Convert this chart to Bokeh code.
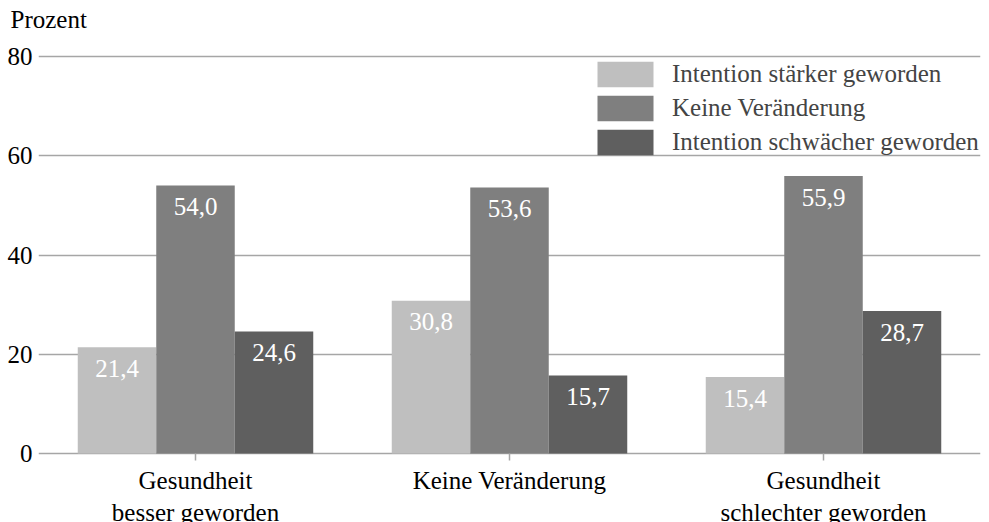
import math
from bokeh.plotting import figure
from bokeh.models import FactorRange, Range1d, FixedTicker, ColumnDataSource
from bokeh.transform import dodge
from bokeh.embed import file_html
from bokeh.resources import INLINE
from bokeh.core.properties import value

categories = ["Gesundheit\nbesser geworden", "Keine Veränderung", "Gesundheit\nschlechter geworden"]
series_names = ["Intention stärker geworden", "Keine Veränderung", "Intention schwächer geworden"]
staerker = [21.4, 30.8, 15.4]
keine = [54.0, 53.6, 55.9]
schwaecher = [24.6, 15.7, 28.7]
y_ticks = [0, 20, 40, 60, 80]
y_label = "Prozent"

colors = ["#bfbfbf", "#7f7f7f", "#5f5f5f"]
offsets = [-0.25, 0.0, 0.25]
FONT = "'Liberation Serif', serif"
GRID = "#a6a6a6"
H = 522

# frame spans from above 80 down past 0 so category labels sit inside it
p = figure(width=981, height=H, x_range=FactorRange(*categories), y_range=Range1d(-13.9, 84.43),
           output_backend="svg", toolbar_location=None,
           min_border_left=38, min_border_right=1, min_border_top=34, min_border_bottom=0)
p.outline_line_color = None

src = ColumnDataSource(dict(cat=categories, s0=staerker, s1=keine, s2=schwaecher,
                            t0=[f"{v:.1f}".replace(".", ",") for v in staerker],
                            t1=[f"{v:.1f}".replace(".", ",") for v in keine],
                            t2=[f"{v:.1f}".replace(".", ",") for v in schwaecher]))

for i, name in enumerate(series_names):
    x = dodge("cat", offsets[i], range=p.x_range)
    p.vbar(x=x, top=f"s{i}", bottom=0, width=0.25, source=src, fill_color=colors[i], line_color=None,
           legend_label=name)
    p.text(x=x, y=f"s{i}", text=f"t{i}", source=src, text_color="white",
           text_font=value(FONT), text_font_size="25px", text_align="center",
           text_baseline="alphabetic", y_offset=21)

# category axis: zero line is the y grid line at 0, ticks and labels at each factor
csrc = ColumnDataSource(dict(cat=categories, zero=[0] * len(categories)))
p.ray(x="cat", y="zero", length=7, length_units="screen", angle=-math.pi / 2,
      source=csrc, line_color=GRID, line_width=1.5)
p.text(x="cat", y="zero", text="cat", source=csrc, text_color="black",
       text_font=value(FONT), text_font_size="25px", text_align="center",
       text_baseline="top", y_offset=13, text_line_height=1.2)
p.xaxis.visible = False

p.title.text = y_label
p.title.text_font = FONT
p.title.text_font_size = "25px"
p.title.text_font_style = "normal"
p.title.text_color = "black"
p.title.align = "left"
p.title.offset = -28
p.title.standoff = 4
p.title.vertical_align = "bottom"

p.xgrid.grid_line_color = None
p.ygrid.ticker = FixedTicker(ticks=y_ticks)
p.ygrid.grid_line_color = GRID
p.ygrid.grid_line_width = 1.5

p.yaxis.ticker = FixedTicker(ticks=y_ticks)
p.yaxis.axis_line_color = None
p.yaxis.major_tick_line_color = None
p.yaxis.major_tick_out = 0
p.yaxis.major_tick_in = 0
p.yaxis.minor_tick_line_color = None
p.yaxis.major_label_text_font = FONT
p.yaxis.major_label_text_font_size = "25px"
p.yaxis.major_label_text_color = "black"
p.yaxis.major_label_standoff = 6

lg = p.legend[0]
# (x, y) of the legend's lower-left corner, in pixels from the frame's lower-left corner
lg.location = (552, H - 58 - 100)
lg.margin = 0
lg.padding = 0
lg.spacing = 2
lg.glyph_width = 70
lg.glyph_height = 32
lg.label_height = 25
lg.label_standoff = 12
lg.label_text_font = FONT
lg.label_text_font_size = "25px"
lg.border_line_color = None
lg.background_fill_alpha = 0

open("out.html", "w").write(file_html(p, INLINE))
